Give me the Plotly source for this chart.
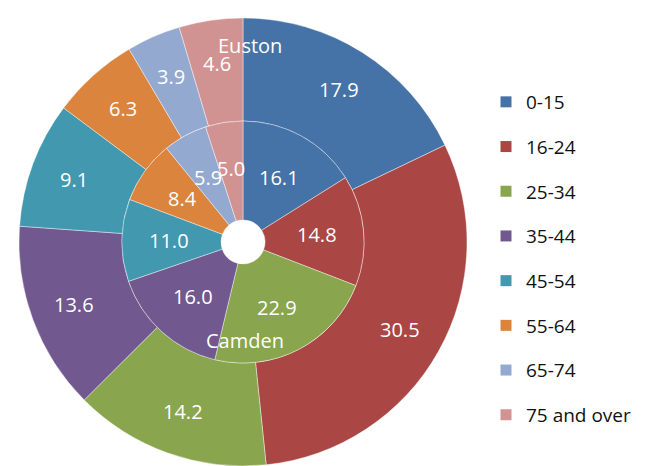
import math
import plotly.graph_objects as go

categories = ["0-15", "16-24", "25-34", "35-44", "45-54", "55-64", "65-74", "75 and over"]
euston = [17.9, 30.5, 14.2, 13.6, 9.1, 6.3, 3.9, 4.6]
camden = [16.1, 14.8, 22.9, 16.0, 11.0, 8.4, 5.9, 5.0]
colors = ["#4572A7", "#AA4643", "#89A54E", "#71588F", "#4198AF", "#DB843D", "#93A9CF", "#D19392"]

W, H = 649, 466
OFF = 8                    # page body margin
CX, CY = 243 - OFF, 242 - OFF   # centre in figure pixels (from top)
R_OUT, R_MID, R_HOLE = 224, 121, 22
FONT = "Open Sans"


def dom(r):
    return dict(x=[(CX - r) / W, (CX + r) / W],
                y=[(H - CY - r) / H, (H - CY + r) / H])


def px2paper(px, py):
    return px / W, 1 - py / H


fig = go.Figure()
fig.add_trace(go.Pie(
    values=euston, labels=categories, name="Euston", sort=False,
    direction="clockwise", rotation=0, hole=R_MID / R_OUT,
    domain=dom(R_OUT), textinfo="none", hoverinfo="label+value",
    marker=dict(colors=colors, line=dict(color="rgba(255,255,255,0.7)", width=0.6)),
    showlegend=False))
fig.add_trace(go.Pie(
    values=camden, labels=categories, name="Camden", sort=False,
    direction="clockwise", rotation=0, hole=R_HOLE / R_MID,
    domain=dom(R_MID), textinfo="none", hoverinfo="label+value",
    marker=dict(colors=colors, line=dict(color="rgba(255,255,255,0.7)", width=0.6)),
    showlegend=False))

# legend entries
for c, col in zip(categories, colors):
    fig.add_trace(go.Scatter(x=[None], y=[None], mode="markers", name=c,
                             legendgroup=c,
                             marker=dict(symbol="square", size=11, color=col)))

annotations = []
LABEL_FONT = dict(family=FONT, size=20, color="white")


def add_labels(vals, r):
    tot = sum(vals)
    cum = 0.0
    for v in vals:
        mid = (cum + v / 2) / tot * 2 * math.pi
        cum += v
        x, y = px2paper(CX + r * math.sin(mid), CY - r * math.cos(mid))
        annotations.append(dict(x=x, y=y, xref="paper", yref="paper",
                                xanchor="center", yanchor="middle",
                                text=f"{v:.1f}", showarrow=False, font=LABEL_FONT))


add_labels(euston, 180)
add_labels(camden, 74)
for name, sx, sy in [("Euston", 250, 46), ("Camden", 245, 340)]:
    x, y = px2paper(sx - OFF, sy - OFF)
    annotations.append(dict(x=x, y=y, xref="paper", yref="paper", text=name,
                            xanchor="center", yanchor="middle",
                            showarrow=False, font=LABEL_FONT))

lx, ly = px2paper(486 - OFF, 75)
fig.update_layout(
    width=W, height=H,
    margin=dict(l=0, r=0, t=0, b=0),
    paper_bgcolor="white", plot_bgcolor="white",
    xaxis=dict(visible=False), yaxis=dict(visible=False),
    annotations=annotations,
    legend=dict(x=lx, y=ly, xanchor="left", yanchor="top",
                font=dict(family=FONT, size=19, color="#111111"),
                tracegroupgap=17, bgcolor="rgba(0,0,0,0)"),
)

fig.write_html("out.html")
